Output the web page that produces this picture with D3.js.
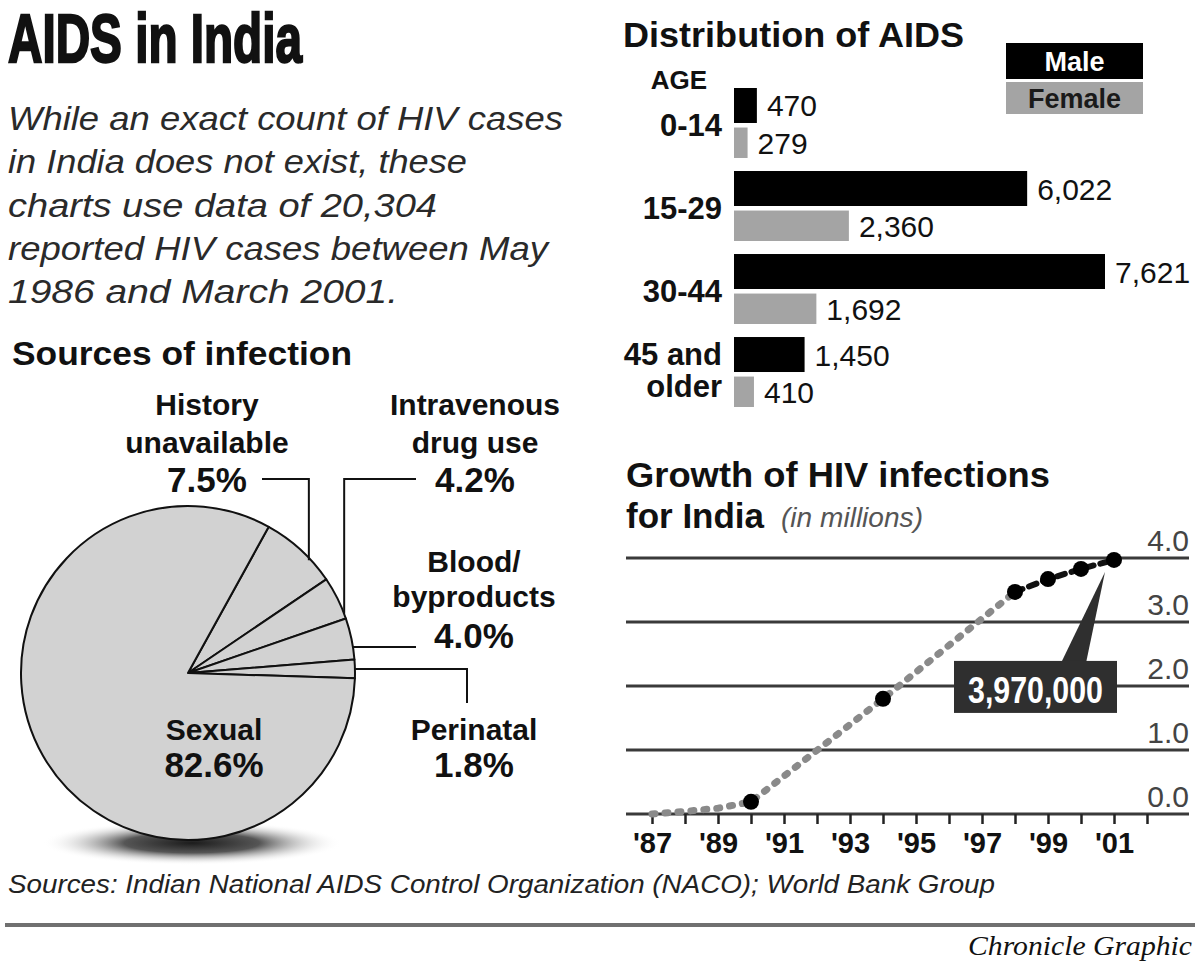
<!DOCTYPE html>
<html><head><meta charset="utf-8">
<script src="https://cdn.jsdelivr.net/npm/d3@7"></script>
<style>body{margin:0;background:#fff}</style>
</head><body>
<svg id="c" width="1200" height="970"></svg>
<script>
// ---------- DATA ----------
const ageGroups = ["0-14", "15-29", "30-44", "45 and older"];
const ageLabelLines = [["0-14"], ["15-29"], ["30-44"], ["45 and", "older"]];
const sexes = ["Male", "Female"];
const maleCases = [470, 6022, 7621, 1450];
const femaleCases = [279, 2360, 1692, 410];

const sources = ["History unavailable", "Intravenous drug use", "Blood/byproducts", "Perinatal", "Sexual"];
const sourceLabelLines = [["History", "unavailable"], ["Intravenous", "drug use"], ["Blood/", "byproducts"], ["Perinatal"], ["Sexual"]];
const sourceShares = [7.5, 4.2, 4.0, 1.8, 82.6];

const years = [1987, 1988, 1989, 1990, 1994, 1998, 1999, 2000, 2001];
const hivMillions = [0, 0.04, 0.09, 0.19, 1.80, 3.47, 3.67, 3.83, 3.97];
const markedYears = [1990, 1994, 1998, 1999, 2000, 2001];
const estimateEndYear = 1998;
const yTicks = [0, 1, 2, 3, 4];
const xTickYears = d3.range(1987, 2003);
const xLabelYears = [1987, 1989, 1991, 1993, 1995, 1997, 1999, 2001];
const calloutText = "3,970,000";

// ---------- HELPERS ----------
const FF = "'Liberation Sans', Arial, Helvetica, sans-serif";
const svg = d3.select("#c");
function txt(g, x, y, s, o = {}) {
  const t = g.append("text").attr("x", x).attr("y", y).text(s)
    .attr("font-family", o.ff || FF)
    .attr("font-size", o.size || 28)
    .attr("font-weight", o.w || "bold")
    .attr("font-style", o.it ? "italic" : "normal")
    .attr("text-anchor", o.a || "start")
    .attr("fill", o.fill || "#111");
  if (o.len) t.attr("textLength", o.len).attr("lengthAdjust", "spacingAndGlyphs");
  if (o.stroke) t.attr("stroke", o.fill || "#111").attr("stroke-width", o.stroke);
  return t;
}

// ---------- HEADER ----------
txt(svg, 8, 62, "AIDS in India", { size: 68, len: 294, stroke: 2.4 });
const intro = ["While an exact count of HIV cases", "in India does not exist, these",
  "charts use data of 20,304", "reported HIV cases between May", "1986 and March 2001."];
const introLen = [555, 459, 429, 540, 390];
intro.forEach((l, i) => txt(svg, 8, 130 + i * 43.3, l, { size: 34, w: "normal", it: true, fill: "#2a2a2a", len: introLen[i] }));

// ---------- PIE ----------
const pieG = svg.append("g");
txt(pieG, 12, 365, "Sources of infection", { size: 34, len: 340 });
const defs = svg.append("defs");
const rg = defs.append("radialGradient").attr("id", "shadow");
rg.append("stop").attr("offset", "0").attr("stop-color", "#1c1c1c");
rg.append("stop").attr("offset", "0.45").attr("stop-color", "#555");
rg.append("stop").attr("offset", "1").attr("stop-color", "#fff").attr("stop-opacity", 0);
pieG.append("ellipse").attr("cx", 192).attr("cy", 843).attr("rx", 150).attr("ry", 22).attr("fill", "url(#shadow)");

const pcx = 188, pcy = 673, pr = 167;
const start = 28.9 * Math.PI / 180;
const pie = d3.pie().sort(null).value(d => d).startAngle(start).endAngle(start + 2 * Math.PI);
const arc = d3.arc().innerRadius(0).outerRadius(pr);
pieG.append("g").attr("transform", `translate(${pcx},${pcy})`)
  .selectAll("path").data(pie(sourceShares)).join("path")
  .attr("d", arc).attr("fill", "#d2d2d2").attr("stroke", "#111").attr("stroke-width", 2)
  .attr("stroke-linejoin", "round");

// pie labels
const fmtPct = v => v.toFixed(1) + "%";
const pieLabelPos = [
  { x: 207, y: [415, 453], py: 492 },
  { x: 475, y: [415, 453], py: 492 },
  { x: 474, y: [572, 607], py: 648 },
  { x: 474, y: [740], py: 777 },
  { x: 214, y: [740], py: 777 }
];
sources.forEach((s, i) => {
  const p = pieLabelPos[i];
  sourceLabelLines[i].forEach((l, j) => txt(pieG, p.x, p.y[j], l, { size: 30, a: "middle" }));
  txt(pieG, p.x, p.py, fmtPct(sourceShares[i]), { size: 35, a: "middle" });
});
// leader lines
const leader = pts => pieG.append("path").attr("d", d3.line()(pts)).attr("fill", "none")
  .attr("stroke", "#111").attr("stroke-width", 2);
const edgePt = (a, k = 1) => [pcx + pr * k * Math.sin(a), pcy - pr * k * Math.cos(a)];
const arcs = pie(sourceShares);
const mid = d => (d.startAngle + d.endAngle) / 2;
{
  const h = edgePt(mid(arcs[0]) + 0.08, 0.99);
  leader([[262, 479], [h[0], 479], h]);
  const iv = edgePt(arcs[1].endAngle - 0.03, 1.0);
  leader([[416, 479], [iv[0], 479], iv]);
  const bl = edgePt(mid(arcs[2]) + 0.05);
  leader([[bl[0], bl[1]], [416, bl[1]]]);
  const pe = edgePt(mid(arcs[3]));
  leader([[pe[0], pe[1]], [467, pe[1]], [467, 703]]);
}

// ---------- BAR CHART ----------
const barG = svg.append("g");
txt(barG, 623, 47, "Distribution of AIDS", { size: 35, len: 341 });
txt(barG, 707, 89, "AGE", { size: 26, a: "end" });
const xb = d3.scaleLinear().domain([0, d3.max(maleCases)]).range([734, 1105]);
const yb = d3.scaleBand().domain(ageGroups).range([88, 407]).paddingInner(0.157);
const bw = yb.bandwidth();
const barSpec = { Male: { off: 0, h: bw * 0.5, fill: "#000" }, Female: { off: bw * 0.565, h: bw * 0.435, fill: "#a4a4a4" } };
const seriesVals = { Male: maleCases, Female: femaleCases };
const fmt = d3.format(",");
sexes.forEach(sx => {
  const sp = barSpec[sx];
  ageGroups.forEach((g, i) => {
    const v = seriesVals[sx][i];
    barG.append("rect").attr("x", xb(0)).attr("y", yb(g) + sp.off)
      .attr("width", xb(v) - xb(0)).attr("height", sp.h).attr("fill", sp.fill);
    txt(barG, xb(v) + 10, yb(g) + sp.off + sp.h / 2 + 11, fmt(v), { size: 30, w: "normal" });
  });
});
ageGroups.forEach((g, i) => {
  const lines = ageLabelLines[i];
  const c = yb(g) + bw / 2;
  if (lines.length === 1) txt(barG, 722, c + 13, lines[0], { size: 31, a: "end" });
  else lines.forEach((l, j) => txt(barG, 722, c - 7 + j * 32, l, { size: 31, a: "end" }));
});
// legend
barG.append("rect").attr("x", 1006).attr("y", 43).attr("width", 137).attr("height", 36).attr("fill", "#000");
barG.append("rect").attr("x", 1006).attr("y", 82).attr("width", 137).attr("height", 32).attr("fill", "#a4a4a4");
txt(barG, 1074.5, 71, sexes[0], { size: 27, a: "middle", fill: "#fff" });
txt(barG, 1074.5, 108, sexes[1], { size: 27, a: "middle", fill: "#1a1a1a" });

// ---------- LINE CHART ----------
const lg = svg.append("g");
txt(lg, 626, 487, "Growth of HIV infections", { size: 35, len: 424 });
txt(lg, 626, 528, "for India", { size: 35 });
txt(lg, 781, 527, "(in millions)", { size: 27, w: "normal", it: true, fill: "#555", len: 142 });

const xl = d3.scaleLinear().domain([1987, 2002]).range([652, 1147]);
const yl = d3.scaleLinear().domain([0, 4]).range([814, 558]);
yTicks.forEach(v => {
  lg.append("line").attr("x1", 626).attr("x2", 1189).attr("y1", yl(v)).attr("y2", yl(v))
    .attr("stroke", "#3a3a3a").attr("stroke-width", 3);
  txt(lg, 1189, yl(v) - 7, v.toFixed(1), { size: 30, w: "normal", a: "end", fill: "#444" });
});
const ax = lg.append("g").attr("transform", `translate(0,${yl(0)})`)
  .call(d3.axisBottom(xl).tickValues(xTickYears).tickSize(10).tickPadding(8)
    .tickFormat(d => xLabelYears.includes(d) ? "'" + String(d).slice(2) : ""));
ax.select(".domain").remove();
ax.selectAll(".tick line").attr("stroke", "#222").attr("stroke-width", 2.5);
ax.selectAll(".tick text").attr("font-family", FF).attr("font-size", 29).attr("font-weight", "bold")
  .attr("fill", "#111");

const pts = years.map((yr, i) => ({ yr, v: hivMillions[i] }));
const line = d3.line().x(d => xl(d.yr)).y(d => yl(d.v));
lg.append("path").attr("d", line(pts.filter(d => d.yr <= estimateEndYear)))
  .attr("fill", "none").attr("stroke", "#8a8a8a").attr("stroke-width", 7)
  .attr("stroke-dasharray", "3 10").attr("stroke-linecap", "round");
lg.append("path").attr("d", line(pts.filter(d => d.yr >= estimateEndYear)))
  .attr("fill", "none").attr("stroke", "#111").attr("stroke-width", 6)
  .attr("stroke-dasharray", "8 7").attr("stroke-linecap", "round");
lg.selectAll("circle.pt").data(pts.filter(d => markedYears.includes(d.yr))).join("circle")
  .attr("class", "pt").attr("cx", d => xl(d.yr)).attr("cy", d => yl(d.v)).attr("r", 8).attr("fill", "#000");

// callout
const last = pts[pts.length - 1];
const lx = xl(last.yr), ly = yl(last.v);
const bx0 = lx - 160, bx1 = lx + 3, by0 = ly + 101, by1 = ly + 153;
lg.append("path").attr("d", d3.line()([[bx1 - 56, by0 + 2], [lx - 9, ly + 12], [bx1 - 31, by0 + 2]]))
  .attr("fill", "#2f2f2f");
lg.append("rect").attr("x", bx0).attr("y", by0).attr("width", bx1 - bx0).attr("height", by1 - by0)
  .attr("fill", "#2f2f2f");
txt(lg, (bx0 + bx1) / 2, by1 - 10, calloutText, { size: 36, a: "middle", fill: "#fff", len: 135 });

// ---------- FOOTER ----------
txt(svg, 8, 893, "Sources: Indian National AIDS Control Organization (NACO); World Bank Group",
  { size: 26, w: "normal", it: true, fill: "#222", len: 987 });
svg.append("line").attr("x1", 5).attr("x2", 1195).attr("y1", 925).attr("y2", 925)
  .attr("stroke", "#707070").attr("stroke-width", 4);
txt(svg, 1192, 955, "Chronicle Graphic", { size: 27, w: "normal", it: true, a: "end",
  ff: "'Liberation Serif', 'Times New Roman', serif", len: 224 });
</script>
</body></html>
